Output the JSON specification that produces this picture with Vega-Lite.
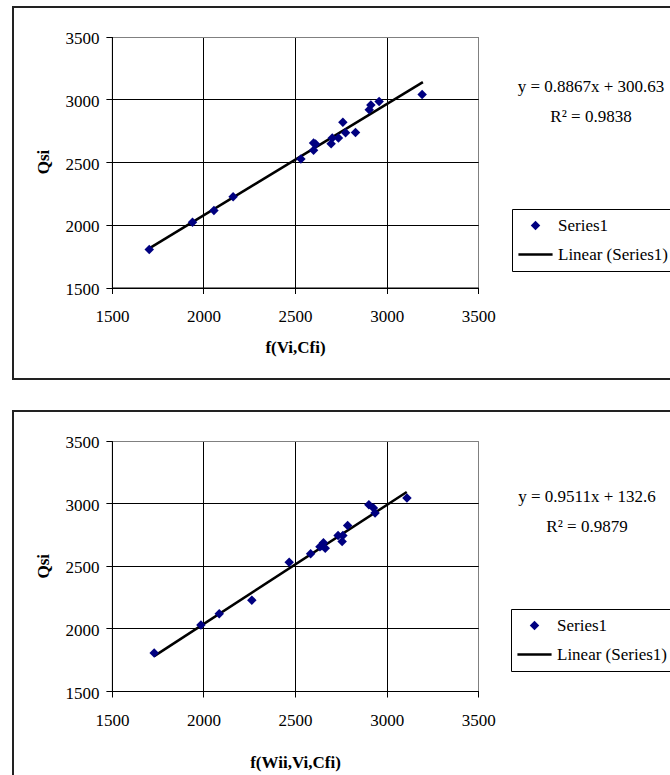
{
  "$schema": "https://vega.github.io/schema/vega-lite/v6.json",
  "background": "white",
  "padding": {"left": 12, "top": 6, "right": 0, "bottom": 0},
  "spacing": 30,
  "datasets": {
    "top_points": [
      {"series": "Series1", "x": 1704, "y": 1802},
      {"series": "Series1", "x": 1940, "y": 2020},
      {"series": "Series1", "x": 2057, "y": 2113},
      {"series": "Series1", "x": 2162, "y": 2224},
      {"series": "Series1", "x": 2532, "y": 2524},
      {"series": "Series1", "x": 2601, "y": 2593},
      {"series": "Series1", "x": 2601, "y": 2651},
      {"series": "Series1", "x": 2612, "y": 2643},
      {"series": "Series1", "x": 2697, "y": 2646},
      {"series": "Series1", "x": 2703, "y": 2691},
      {"series": "Series1", "x": 2737, "y": 2691},
      {"series": "Series1", "x": 2761, "y": 2816},
      {"series": "Series1", "x": 2776, "y": 2733},
      {"series": "Series1", "x": 2830, "y": 2736},
      {"series": "Series1", "x": 2905, "y": 2916},
      {"series": "Series1", "x": 2914, "y": 2954},
      {"series": "Series1", "x": 2959, "y": 2983},
      {"series": "Series1", "x": 3194, "y": 3038}
    ],
    "top_line": [
      {"series": "Linear (Series1)", "x": 1704, "y": 1812},
      {"series": "Linear (Series1)", "x": 3198, "y": 3136}
    ],
    "bottom_points": [
      {"series": "Series1", "x": 1731, "y": 1803},
      {"series": "Series1", "x": 1986, "y": 2027},
      {"series": "Series1", "x": 2086, "y": 2117},
      {"series": "Series1", "x": 2264, "y": 2226},
      {"series": "Series1", "x": 2468, "y": 2529},
      {"series": "Series1", "x": 2585, "y": 2597},
      {"series": "Series1", "x": 2636, "y": 2652},
      {"series": "Series1", "x": 2647, "y": 2660},
      {"series": "Series1", "x": 2655, "y": 2685},
      {"series": "Series1", "x": 2665, "y": 2641},
      {"series": "Series1", "x": 2735, "y": 2743},
      {"series": "Series1", "x": 2761, "y": 2742},
      {"series": "Series1", "x": 2757, "y": 2695},
      {"series": "Series1", "x": 2787, "y": 2822},
      {"series": "Series1", "x": 2903, "y": 2989},
      {"series": "Series1", "x": 2928, "y": 2963},
      {"series": "Series1", "x": 2937, "y": 2923},
      {"series": "Series1", "x": 3111, "y": 3043}
    ],
    "bottom_line": [
      {"series": "Linear (Series1)", "x": 1731, "y": 1779},
      {"series": "Linear (Series1)", "x": 3110, "y": 3090}
    ]
  },
  "config": {
    "font": "Liberation Serif",
    "view": {"stroke": "#222222", "strokeWidth": 2, "fill": "white"},
    "axis": {
      "domainColor": "black",
      "domainWidth": 1,
      "tickColor": "black",
      "tickSize": 6,
      "tickWidth": 1,
      "labelFont": "Liberation Serif",
      "labelFontSize": 17,
      "labelColor": "black",
      "titleFont": "Liberation Serif",
      "titleFontSize": 17,
      "titleFontWeight": "bold",
      "titleColor": "black",
      "gridWidth": 1,
      "gridColor": {"condition": {"test": "datum.value === 3500", "value": "#808080"}, "value": "black"},
      "labelFlush": false,
      "labelOverlap": false
    },
    "legend": {
      "orient": "none",
      "padding": 8,
      "rowPadding": 9,
      "strokeColor": "black",
      "fillColor": "white",
      "labelFont": "Liberation Serif",
      "labelFontSize": 17,
      "labelColor": "black",
      "symbolSize": 90,
      "symbolOffset": 7,
      "labelOffset": 14,
      "symbolStrokeWidth": 2.5
    },
    "title": {
      "font": "Liberation Serif",
      "fontSize": 17,
      "fontWeight": "normal",
      "color": "black"
    }
  },
  "resolve": {
    "scale": {"x": "independent", "y": "independent", "color": "independent", "shape": "independent", "stroke": "independent"},
    "legend": {"color": "independent", "shape": "independent", "stroke": "independent"}
  },
  "vconcat": [
    {
      "width": 680,
      "height": 372,
      "title": {
        "text": ["y = 0.8867x + 300.63", "R² = 0.9838"],
        "orient": "top",
        "anchor": "start",
        "frame": "group",
        "align": "center",
        "baseline": "alphabetic",
        "dx": 578,
        "dy": 131.6,
        "offset": 0,
        "lineHeight": 30
      },
      "resolve": {"axis": {"x": "independent"}},
      "layer": [
        {
          "data": {"name": "top_line"},
          "mark": {"type": "line", "strokeWidth": 2.5, "color": "black"},
          "encoding": {
            "x": {
              "field": "x", "type": "quantitative",
              "scale": {"domain": [1500, 3500], "range": [98.9, 465.2], "nice": false, "zero": false},
              "axis": {"orient": "top", "grid": true, "domain": false, "ticks": false, "labels": false, "title": null, "values": [1500, 2000, 2500, 3000, 3500]}
            },
            "y": {
              "field": "y", "type": "quantitative",
              "scale": {"domain": [1500, 3500], "range": [280.5, 29.5], "nice": false, "zero": false}
            }
          }
        },
        {
          "data": {"name": "top_points"},
          "mark": {"type": "point", "filled": true, "size": 90, "opacity": 1},
          "encoding": {
            "x": {
              "field": "x", "type": "quantitative",
              "axis": {
                "title": "f(Vi,Cfi)",
                "orient": "bottom",
                "grid": false,
                "values": [1500, 2000, 2500, 3000, 3500],
                "format": "d",
                "offset": -91.5,
                "labelPadding": 15,
                "titleX": 282,
                "titleY": 64.5,
                "titleBaseline": "alphabetic"
              }
            },
            "y": {
              "field": "y", "type": "quantitative",
              "axis": {
                "title": "Qsi",
                "orient": "left",
                "grid": true,
                "values": [1500, 2000, 2500, 3000, 3500],
                "format": "d",
                "offset": -98.9,
                "labelPadding": 7,
                "labelBaseline": "alphabetic",
                "labelOffset": 7,
                "titleX": -63.7,
                "titleY": 154.5,
                "titleAlign": "center",
                "titleBaseline": "alphabetic",
                "titleAngle": 270
              }
            },
            "color": {
              "field": "series", "type": "nominal",
              "scale": {"domain": ["Series1", "Linear (Series1)"], "range": ["#000080", "#000000"]},
              "legend": {"title": null, "legendX": 499, "legendY": 202}
            },
            "shape": {
              "field": "series", "type": "nominal",
              "scale": {"domain": ["Series1", "Linear (Series1)"], "range": ["diamond", "M-3.6,0H3.6"]},
              "legend": {"title": null, "legendX": 499, "legendY": 202}
            },
            "stroke": {
              "field": "series", "type": "nominal",
              "scale": {"domain": ["Series1", "Linear (Series1)"], "range": ["transparent", "#000000"]},
              "legend": {"title": null, "legendX": 499, "legendY": 202}
            }
          }
        }
      ]
    },
    {
      "width": 680,
      "height": 372,
      "title": {
        "text": ["y = 0.9511x + 132.6", "R² = 0.9879"],
        "orient": "top",
        "anchor": "start",
        "frame": "group",
        "align": "center",
        "baseline": "alphabetic",
        "dx": 574,
        "dy": 137.6,
        "offset": 0,
        "lineHeight": 30
      },
      "resolve": {"axis": {"x": "independent"}},
      "layer": [
        {
          "data": {"name": "bottom_line"},
          "mark": {"type": "line", "strokeWidth": 2.5, "color": "black"},
          "encoding": {
            "x": {
              "field": "x", "type": "quantitative",
              "scale": {"domain": [1500, 3500], "range": [98.9, 465.2], "nice": false, "zero": false},
              "axis": {"orient": "top", "grid": true, "domain": false, "ticks": false, "labels": false, "title": null, "values": [1500, 2000, 2500, 3000, 3500]}
            },
            "y": {
              "field": "y", "type": "quantitative",
              "scale": {"domain": [1500, 3500], "range": [280, 29.7], "nice": false, "zero": false}
            }
          }
        },
        {
          "data": {"name": "bottom_points"},
          "mark": {"type": "point", "filled": true, "size": 90, "opacity": 1},
          "encoding": {
            "x": {
              "field": "x", "type": "quantitative",
              "axis": {
                "title": "f(Wii,Vi,Cfi)",
                "orient": "bottom",
                "grid": false,
                "values": [1500, 2000, 2500, 3000, 3500],
                "format": "d",
                "offset": -92,
                "labelPadding": 15,
                "titleX": 282,
                "titleY": 76,
                "titleBaseline": "alphabetic"
              }
            },
            "y": {
              "field": "y", "type": "quantitative",
              "axis": {
                "title": "Qsi",
                "orient": "left",
                "grid": true,
                "values": [1500, 2000, 2500, 3000, 3500],
                "format": "d",
                "offset": -98.9,
                "labelPadding": 7,
                "labelBaseline": "alphabetic",
                "labelOffset": 7,
                "titleX": -63.7,
                "titleY": 154.8,
                "titleAlign": "center",
                "titleBaseline": "alphabetic",
                "titleAngle": 270
              }
            },
            "color": {
              "field": "series", "type": "nominal",
              "scale": {"domain": ["Series1", "Linear (Series1)"], "range": ["#000080", "#000000"]},
              "legend": {"title": null, "legendX": 498, "legendY": 198}
            },
            "shape": {
              "field": "series", "type": "nominal",
              "scale": {"domain": ["Series1", "Linear (Series1)"], "range": ["diamond", "M-3.6,0H3.6"]},
              "legend": {"title": null, "legendX": 498, "legendY": 198}
            },
            "stroke": {
              "field": "series", "type": "nominal",
              "scale": {"domain": ["Series1", "Linear (Series1)"], "range": ["transparent", "#000000"]},
              "legend": {"title": null, "legendX": 498, "legendY": 198}
            }
          }
        }
      ]
    }
  ]
}
